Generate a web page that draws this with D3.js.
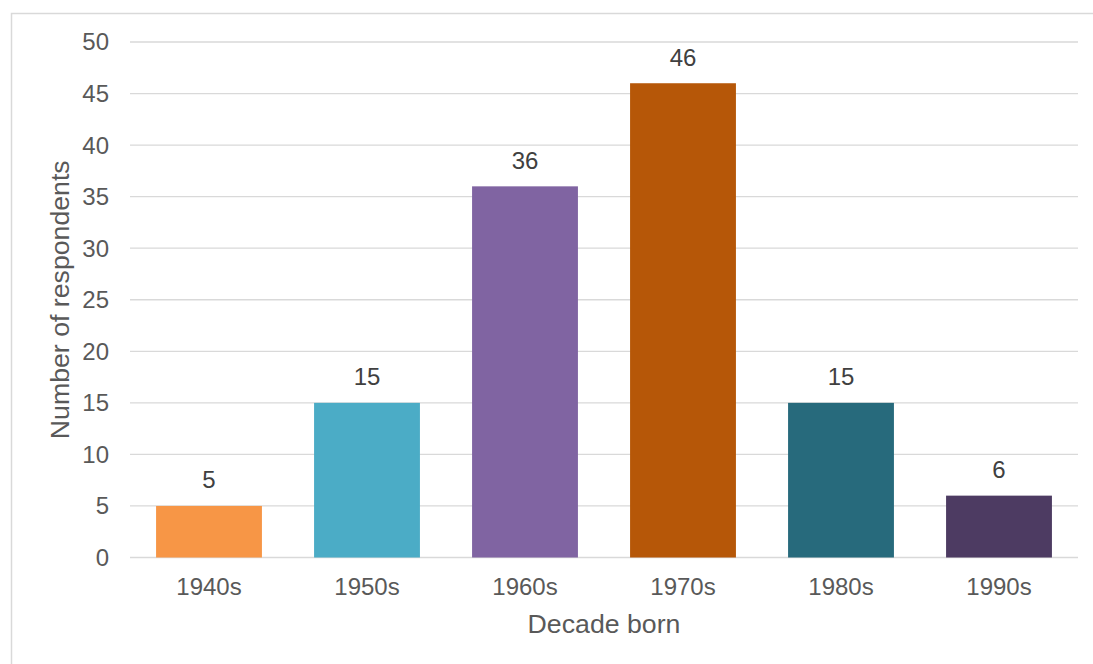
<!DOCTYPE html>
<html><head><meta charset="utf-8">
<script src="https://cdn.jsdelivr.net/npm/d3@7"></script>
<style>body{margin:0;background:#fff;} svg{display:block;font-family:"Liberation Sans",Arial,sans-serif;}</style>
</head><body>
<script>
const categories = ["1940s","1950s","1960s","1970s","1980s","1990s"];
const values = [5,15,36,46,15,6];
const colors = ["#F79646","#4BACC6","#8064A2","#B65708","#276A7C","#4D3B62"];
const yTicks = [0,5,10,15,20,25,30,35,40,45,50];
const xTitle = "Decade born";
const yTitle = "Number of respondents";

const W = 1093, H = 664;
const svg = d3.select("body").append("svg").attr("width", W).attr("height", H);
svg.append("rect").attr("x",11.5).attr("y",13.5).attr("width",W).attr("height",H)
  .attr("fill","#fff").attr("stroke","#D9D9D9").attr("stroke-width",1.5);

const x = d3.scaleBand().domain(categories).range([130,1078]).paddingInner(0.33).paddingOuter(0.165);
const y = d3.scaleLinear().domain([0,50]).range([557.5,42]);

// gridlines
svg.append("g").selectAll("line").data(yTicks).join("line")
  .attr("x1",130).attr("x2",1078).attr("y1",d=>y(d)).attr("y2",d=>y(d))
  .attr("stroke","#D9D9D9").attr("stroke-width",1.3);

// y tick labels
svg.append("g").selectAll("text").data(yTicks).join("text")
  .attr("x",109).attr("y",d=>y(d)).attr("dy","0.35em").attr("text-anchor","end")
  .attr("font-size",24).attr("fill","#595959").text(d=>d);

// bars
svg.append("g").selectAll("rect").data(values).join("rect")
  .attr("x",(d,i)=>x(categories[i])).attr("width",x.bandwidth())
  .attr("y",d=>y(d)).attr("height",d=>y(0)-y(d)).attr("fill",(d,i)=>colors[i]);

// value labels
svg.append("g").selectAll("text").data(values).join("text")
  .attr("x",(d,i)=>x(categories[i])+x.bandwidth()/2).attr("y",d=>y(d)-17.5)
  .attr("text-anchor","middle").attr("font-size",24).attr("fill","#404040").text(d=>d);

// x tick labels
svg.append("g").selectAll("text").data(categories).join("text")
  .attr("x",d=>x(d)+x.bandwidth()/2).attr("y",y(0)+37.5)
  .attr("text-anchor","middle").attr("font-size",24).attr("fill","#595959").text(d=>d);

// axis titles
svg.append("text").attr("x",604).attr("y",633).attr("text-anchor","middle")
  .attr("font-size",26.7).attr("fill","#595959").text(xTitle);
svg.append("text").attr("transform",`translate(69,${(y(0)+y(50))/2}) rotate(-90)`)
  .attr("text-anchor","middle").attr("font-size",26.7).attr("fill","#595959").text(yTitle);
</script>
</body></html>
